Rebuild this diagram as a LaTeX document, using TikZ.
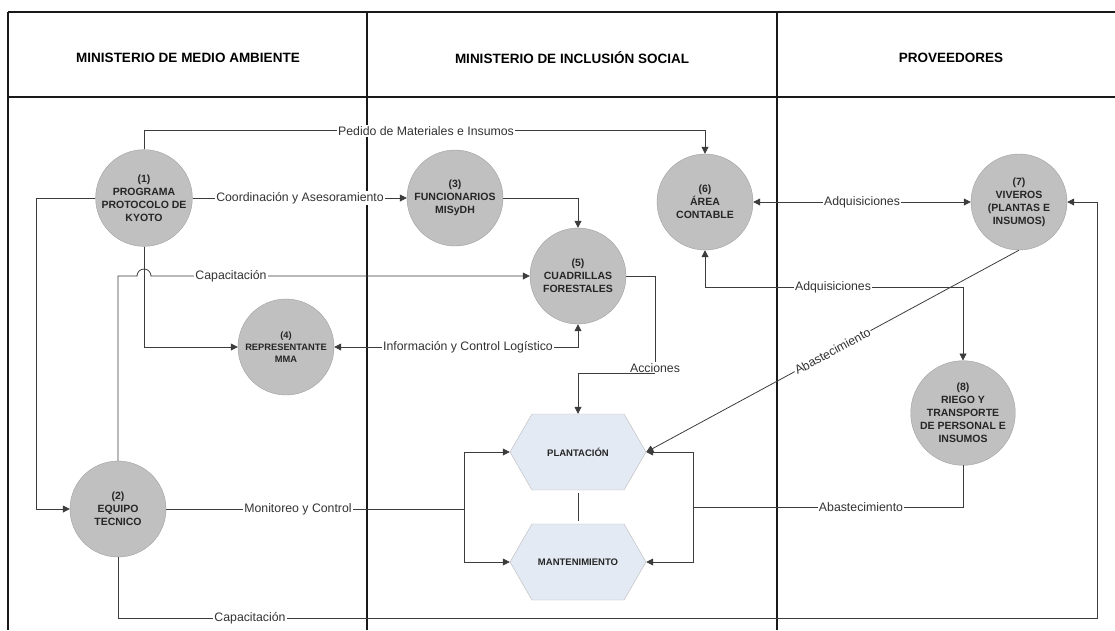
\documentclass[tikz,border=0pt]{standalone}
\usepackage{fontspec}
\setmainfont{Liberation Sans}
\usetikzlibrary{arrows.meta,shapes.symbols}

\definecolor{circfill}{HTML}{C0C0C0}
\definecolor{hexfill}{HTML}{E4EAF4}
\definecolor{linecol}{HTML}{3C3C3C}

\tikzset{
  proc/.style={circle, draw=gray!75, fill=circfill, minimum size=96pt, inner sep=0pt,
    align=center, text=black!85, font=\bfseries\fontsize{10.5}{13}\selectfont},
  act/.style={signal, signal to=east and west, signal pointer angle=120,
    draw=gray!55, fill=hexfill, minimum width=136pt, minimum height=76pt,
    inner sep=0pt, text=black!85, font=\bfseries\fontsize{9.5}{11}\selectfont},
  conn/.style={draw=linecol, line width=0.8pt},
  arr/.style={conn, -{Triangle[length=7pt,width=7pt]}},
  darr/.style={conn, {Triangle[length=7pt,width=7pt]}-{Triangle[length=7pt,width=7pt]}},
  lbl/.style={fill=white, inner sep=1pt, text=black!80, font=\fontsize{12.3}{14}\selectfont},
  lane/.style={line width=1.2pt, black!90},
  head/.style={font=\bfseries\fontsize{13.5}{16}\selectfont}
}

\begin{document}
\begin{tikzpicture}[x=1pt,y=-1pt]
\useasboundingbox (0,0) rectangle (1115,630);

% swimlanes
\draw[lane] (8,12) -- (1115,12);
\draw[lane] (8,97) -- (1115,97);
\draw[lane] (8,12) -- (8,630);
\draw[lane] (367,12) -- (367,630);
\draw[lane] (777,12) -- (777,630);

\node[head] (hMMA) at (188,58) {MINISTERIO DE MEDIO AMBIENTE};
\node[head] (hMIS) at (572,58) {MINISTERIO DE INCLUSIÓN SOCIAL};
\node[head] (hPRO) at (951,58) {PROVEEDORES};

% processes
\node[proc] (prog) at (144,198) {(1)\\PROGRAMA\\PROTOCOLO DE\\KYOTO};
\node[proc] (equipo) at (118,509) {(2)\\EQUIPO\\TECNICO};
\node[proc] (func) at (455,198) {(3)\\FUNCIONARIOS\\MISyDH};
\node[proc, font=\bfseries\fontsize{9.3}{12}\selectfont] (repr) at (286,347) {(4)\\REPRESENTANTE\\MMA};
\node[proc] (cuad) at (578,276) {(5)\\CUADRILLAS\\FORESTALES};
\node[proc] (conta) at (705,202) {(6)\\ÁREA\\CONTABLE};
\node[proc] (viv) at (1019,202) {(7)\\VIVEROS\\(PLANTAS E\\INSUMOS)};
\node[proc] (riego) at (963,413) {(8)\\RIEGO Y\\TRANSPORTE\\DE PERSONAL E\\INSUMOS};

\node[act] (plant) at (578,452) {PLANTACIÓN};
\node[act] (mant) at (578,562) {MANTENIMIENTO};

% connectors
\draw[arr] (prog.north) -- ++(0,-19) -| (conta.north);
\draw[arr] (prog.east) -- (func.west);
\draw[arr] (prog.west) -- ++(-59,0) |- (equipo.west);
\draw[arr] (prog.south) |- (repr.west);
\coordinate (hop) at (prog.south |- cuad.west);
\draw[arr] (equipo.north) |- ([xshift=-7pt]hop) arc (180:0:7pt) -- (cuad.west);
\draw[arr] (func.east) -| (cuad.north);
\draw[darr] (repr.east) -| (cuad.south);
\node[inner sep=1pt, text=black!80, font=\fontsize{12.3}{14}\selectfont] (lAcc) at (655,368) {Acciones};
\draw[conn] (cuad.east) -| (lAcc.north);
\draw[arr] (lAcc.south) -| (plant.north);
\draw[darr] (conta.east) -- (viv.west);
\draw[darr] (conta.south) -- ++(0,37) -| (riego.north);
\draw[arr] (viv.south) -- (plant.east)
  node[lbl, sloped, pos=0.5] (lAba1) {Abastecimiento};
\coordinate (rj) at (693,507);
\draw[conn] (riego.south) |- (rj);
\draw[arr] (rj) |- (plant.east);
\draw[arr] (rj) |- (mant.east);
\coordinate (lj) at (464,509);
\draw[conn] (equipo.east) -- (lj);
\draw[arr] (lj) |- (plant.west);
\draw[arr] (lj) |- (mant.west);
\draw[arr] (equipo.south) |- (1097,618) |- (viv.east);
\draw[conn] ([yshift=-3pt]plant.south) -- ([yshift=3pt]mant.north);

% labels
\node[lbl] (lPed) at (426,131) {Pedido de Materiales e Insumos};
\node[lbl] (lCoo) at (300,198) {Coordinación y Asesoramiento};
\node[lbl] (lCap1) at (231,276) {Capacitación};
\node[lbl] (lInf) at (468,347) {Información y Control Logístico};
\node[lbl] (lAdq1) at (862,202) {Adquisiciones};
\node[lbl] (lAdq2) at (833,287) {Adquisiciones};
\node[lbl] (lAba2) at (861,507) {Abastecimiento};
\node[lbl] (lMon) at (298,509) {Monitoreo y Control};
\node[lbl] (lCap2) at (250,618) {Capacitación};
\end{tikzpicture}
\end{document}
